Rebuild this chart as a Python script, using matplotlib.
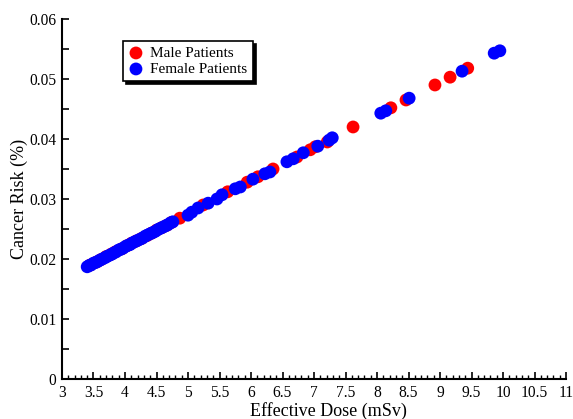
import matplotlib
matplotlib.use("Agg")
import matplotlib.pyplot as plt
from matplotlib.ticker import MultipleLocator

plt.rcParams['font.family'] = ['Liberation Serif', 'DejaVu Serif']

# Male patients (dose in mSv, cancer risk in %)
male_dose = [3.45, 3.55, 3.62, 3.70, 3.78, 3.85, 3.95, 4.03, 4.10, 4.18, 4.26, 4.35,
             4.42, 4.50, 4.58, 4.66, 4.74, 4.87, 5.24, 5.63, 5.94, 6.11, 6.35,
             6.73, 6.94, 7.02, 7.21, 7.62, 8.22, 8.46, 8.92, 9.16, 9.44]
male_risk = [0.0190, 0.0195, 0.0199, 0.0204, 0.0208, 0.0212, 0.0217, 0.0222, 0.0226,
             0.0230, 0.0234, 0.0239, 0.0243, 0.0248, 0.0252, 0.0256, 0.0261, 0.0268,
             0.0290, 0.0312, 0.0328, 0.0337, 0.0350, 0.0370, 0.0382, 0.0387, 0.0395,
             0.0420, 0.0452, 0.0465, 0.0490, 0.0503, 0.0518]

# Female patients
female_dose = [3.40, 3.43, 3.46, 3.50, 3.53, 3.57, 3.60, 3.64, 3.68, 3.71, 3.75, 3.79,
               3.82, 3.86, 3.90, 3.93, 3.97, 4.01, 4.05, 4.08, 4.12, 4.16, 4.20, 4.24,
               4.28, 4.32, 4.36, 4.40, 4.44, 4.48, 4.52, 4.56, 4.60, 4.64, 4.68, 4.72,
               4.76, 5.00, 5.06, 5.16, 5.32, 5.46, 5.54, 5.75, 5.83, 6.03, 6.22, 6.30,
               6.57, 6.67, 6.83, 7.06, 7.24, 7.29, 8.06, 8.14, 8.51, 9.35, 9.86, 9.95]
female_risk = [0.0187, 0.0189, 0.0190, 0.0193, 0.0194, 0.0196, 0.0198, 0.0200, 0.0202,
               0.0204, 0.0206, 0.0208, 0.0210, 0.0212, 0.0215, 0.0216, 0.0218, 0.0221,
               0.0223, 0.0224, 0.0227, 0.0229, 0.0231, 0.0233, 0.0235, 0.0238, 0.0240,
               0.0242, 0.0244, 0.0246, 0.0249, 0.0251, 0.0253, 0.0255, 0.0257, 0.0260,
               0.0262, 0.0273, 0.0278, 0.0285, 0.0293, 0.0300, 0.0307, 0.0317, 0.0320,
               0.0333, 0.0342, 0.0345, 0.0362, 0.0367, 0.0377, 0.0388, 0.0398, 0.0402,
               0.0443, 0.0447, 0.0468, 0.0513, 0.0543, 0.0547]

x_ticks = [3, 3.5, 4, 4.5, 5, 5.5, 6, 6.5, 7, 7.5, 8, 8.5, 9, 9.5, 10, 10.5, 11]
x_labels = ['3', '3.5', '4', '4.5', '5', '5.5', '6', '6.5', '7', '7.5', '8', '8.5',
            '9', '9.5', '10', '10.5', '11']
y_ticks = [0, 0.01, 0.02, 0.03, 0.04, 0.05, 0.06]
y_labels = ['0', '0.01', '0.02', '0.03', '0.04', '0.05', '0.06']

fig = plt.figure(figsize=(5.73, 4.19), dpi=100)
ax = fig.add_axes([0.1082, 0.0955, 0.8796, 0.8592])

ax.scatter(male_dose, male_risk, s=85, color='#ff0000', edgecolors='none',
           label='Male Patients', zorder=3)
ax.scatter(female_dose, female_risk, s=85, color='#0000ff', edgecolors='none',
           label='Female Patients', zorder=4)

ax.set_xlim(3, 11)
ax.set_ylim(0, 0.06)
ax.set_xticks(x_ticks)
ax.set_xticklabels(x_labels)
ax.set_yticks(y_ticks)
ax.set_yticklabels(y_labels)
ax.xaxis.set_minor_locator(MultipleLocator(0.1))
ax.yaxis.set_minor_locator(MultipleLocator(0.005))

for s in ['top', 'right']:
    ax.spines[s].set_visible(False)
for s in ['left', 'bottom']:
    ax.spines[s].set_linewidth(1.5)
    ax.spines[s].set_color('black')

ax.tick_params(axis='both', which='major', direction='in', length=5, width=1.2,
               labelsize=11.2, colors='black', pad=4)
ax.tick_params(axis='x', which='minor', direction='in', length=3, width=1.0)
ax.tick_params(axis='y', which='minor', direction='in', length=5, width=1.2)

ax.set_xlabel('Effective Dose (mSv)', fontsize=13, labelpad=1)
ax.xaxis.set_label_coords(0.528, -0.063, transform=ax.transAxes)
ax.xaxis.label.set_va('top')
ax.set_ylabel('Cancer Risk (%)', fontsize=13, labelpad=1)

leg = ax.legend(loc='upper left', bbox_to_anchor=(0.121, 0.939), borderaxespad=0,
                fontsize=11, fancybox=False, edgecolor='black', framealpha=1,
                shadow={'color': 'black', 'alpha': 1}, handletextpad=0.45,
                borderpad=0.35, labelspacing=0.15, handlelength=1.0,
                scatterpoints=1)
leg.get_frame().set_linewidth(1.2)
for h in leg.legend_handles:
    h.set_sizes([85])

fig.savefig('out.png', dpi=100)
